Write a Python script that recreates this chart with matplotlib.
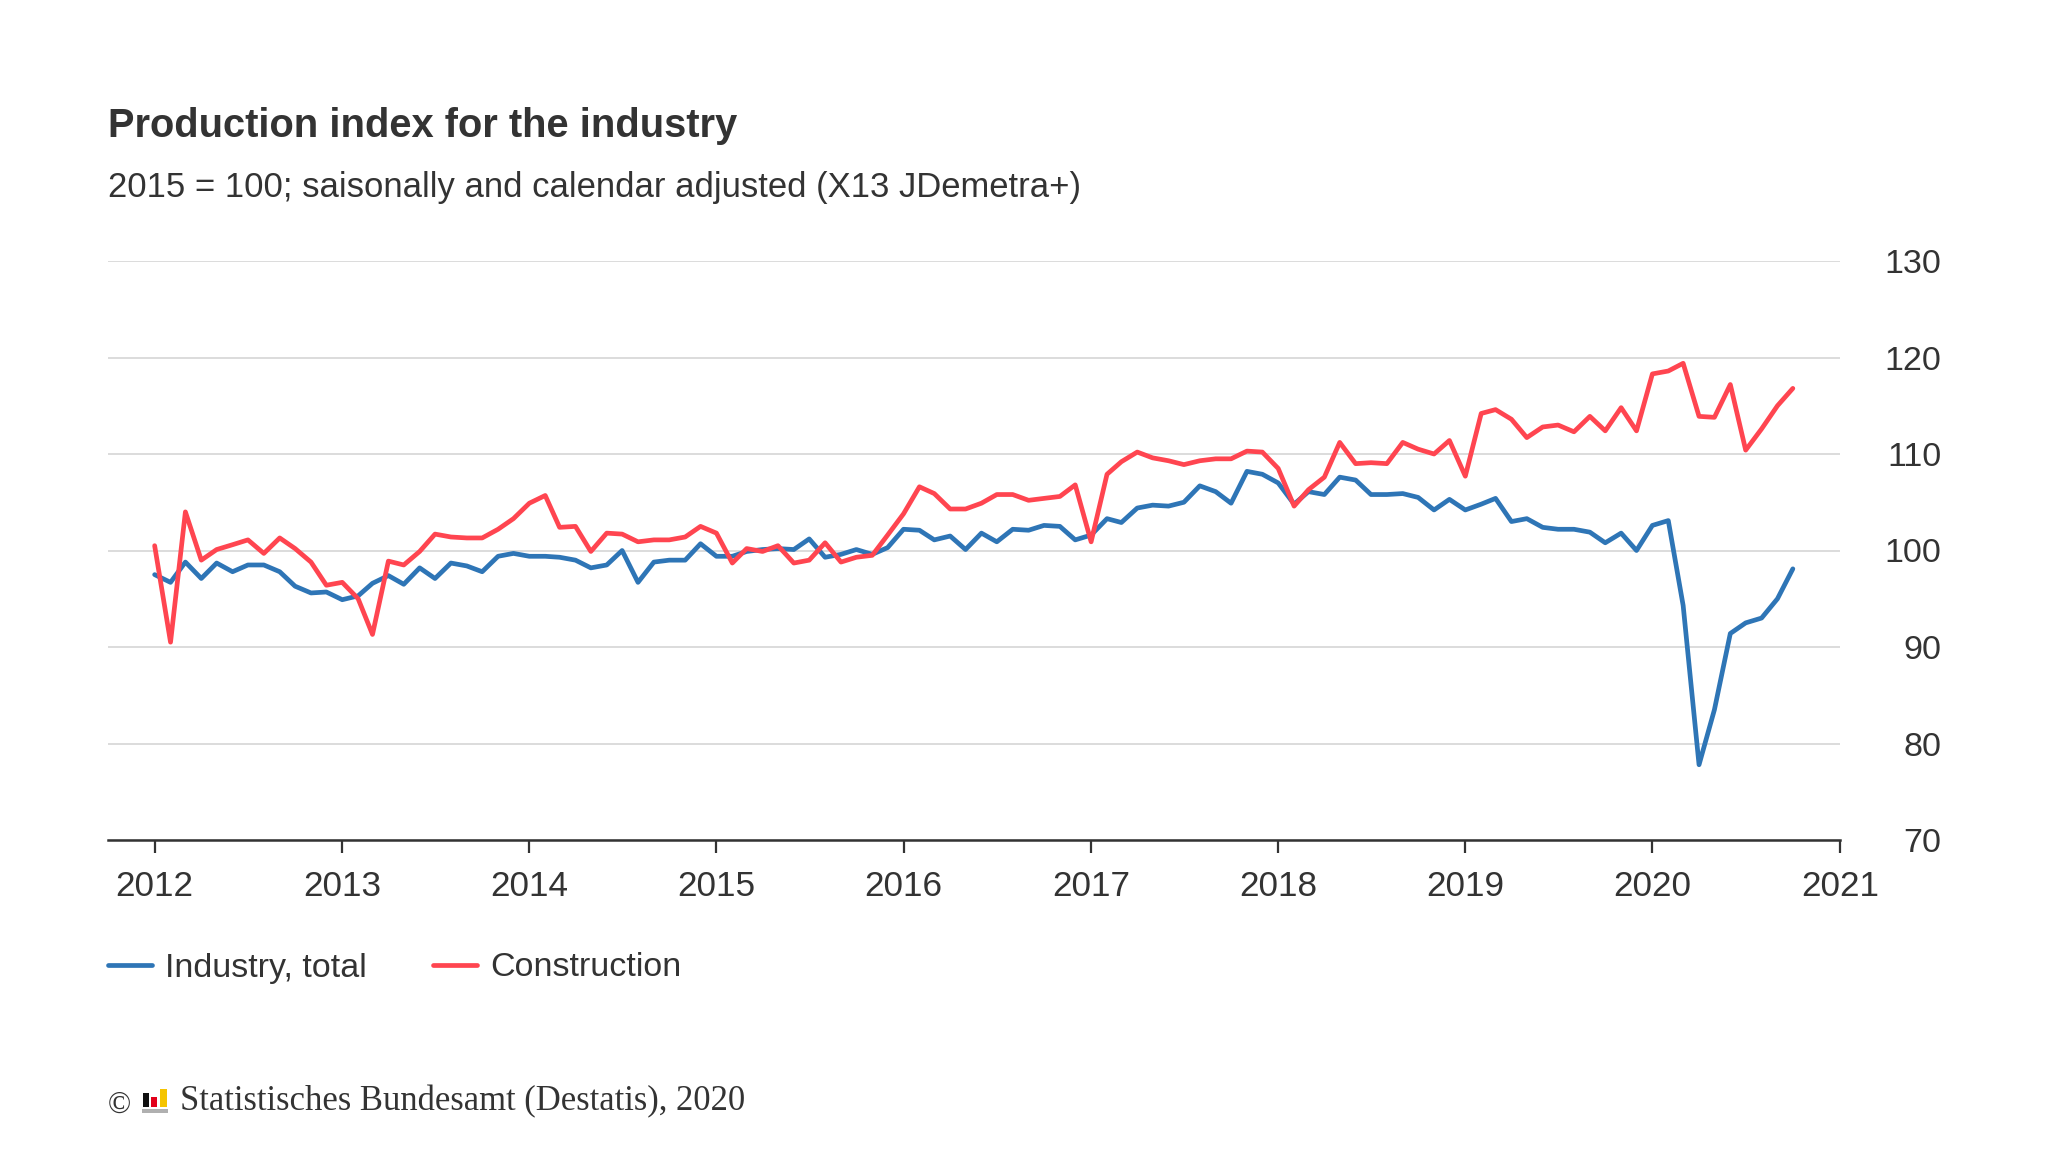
import numpy as np
import pandas as pd
import matplotlib
matplotlib.use("Agg")
import matplotlib.pyplot as plt
from matplotlib.patches import Rectangle

# Monatswerte Jan 2012 - Okt 2020, 2015 = 100
meses = pd.date_range("2012-01-01", periods=106, freq="MS")

industria = [
    97.5, 96.7, 98.8, 97.1, 98.7, 97.8, 98.5, 98.5, 97.8, 96.3, 95.6, 95.7,
    94.9, 95.3, 96.6, 97.4, 96.5, 98.2, 97.1, 98.7, 98.4, 97.8, 99.4, 99.7,
    99.4, 99.4, 99.3, 99.0, 98.2, 98.5, 100.0, 96.7, 98.8, 99.0, 99.0, 100.7,
    99.4, 99.4, 99.9, 100.1, 100.2, 100.1, 101.2, 99.3, 99.6, 100.1, 99.6, 100.3,
    102.2, 102.1, 101.1, 101.5, 100.1, 101.8, 100.9, 102.2, 102.1, 102.6, 102.5, 101.1,
    101.6, 103.3, 102.9, 104.4, 104.7, 104.6, 105.0, 106.7, 106.1, 104.9, 108.2, 107.9,
    107.0, 104.8, 106.1, 105.8, 107.6, 107.3, 105.8, 105.8, 105.9, 105.5, 104.2, 105.3,
    104.2, 104.8, 105.4, 103.0, 103.3, 102.4, 102.2, 102.2, 101.9, 100.8, 101.8, 100.0,
    102.6, 103.1, 94.3, 77.8, 83.5, 91.4, 92.5, 93.0, 95.0, 98.1,
]

construccion = [
    100.5, 90.5, 104.0, 99.0, 100.1, 100.6, 101.1, 99.7, 101.3, 100.2, 98.8, 96.4,
    96.7, 95.0, 91.3, 98.9, 98.5, 99.9, 101.7, 101.4, 101.3, 101.3, 102.2, 103.3,
    104.9, 105.7, 102.4, 102.5, 99.9, 101.8, 101.7, 100.9, 101.1, 101.1, 101.4, 102.5,
    101.8, 98.7, 100.2, 99.9, 100.5, 98.7, 99.0, 100.8, 98.8, 99.3, 99.5, 101.6,
    103.8, 106.6, 105.9, 104.3, 104.3, 104.9, 105.8, 105.8, 105.2, 105.4, 105.6, 106.8,
    100.9, 107.9, 109.2, 110.2, 109.6, 109.3, 108.9, 109.3, 109.5, 109.5, 110.3, 110.2,
    108.5, 104.6, 106.3, 107.6, 111.2, 109.0, 109.1, 109.0, 111.2, 110.5, 110.0, 111.4,
    107.7, 114.2, 114.6, 113.6, 111.7, 112.8, 113.0, 112.3, 113.9, 112.4, 114.8, 112.4,
    118.3, 118.6, 119.4, 113.9, 113.8, 117.2, 110.4, 112.6, 115.0, 116.8,
]

anios = list(range(2012, 2022))
valores_y = [70, 80, 90, 100, 110, 120, 130]

AZUL = "#2e75b6"
ROJO = "#ff4550"
TEXTO = "#333333"

plt.rcParams["font.family"] = ["Liberation Sans", "DejaVu Sans"]

fig = plt.figure(figsize=(20.48, 11.52), dpi=100)
ax = fig.add_axes([108 / 2048, 1 - 840 / 1152, (1840 - 108) / 2048, (840 - 261) / 1152])

l1, = ax.plot(meses, industria, color=AZUL, lw=3.4, solid_joinstyle="round",
              solid_capstyle="round", label="Industry, total", zorder=3)
l2, = ax.plot(meses, construccion, color=ROJO, lw=3.4, solid_joinstyle="round",
              solid_capstyle="round", label="Construction", zorder=3)

ax.set_xlim(pd.Timestamp("2011-10-02"), pd.Timestamp("2021-01-01"))
ax.set_ylim(70, 130)

ax.set_xticks([pd.Timestamp(f"{a}-01-01") for a in anios])
ax.set_xticklabels([str(a) for a in anios])
ax.set_yticks(valores_y)
ax.set_yticklabels([str(v) for v in valores_y])

for lado in ["top", "left", "right"]:
    ax.spines[lado].set_visible(False)
ax.spines["bottom"].set_color(TEXTO)
ax.spines["bottom"].set_linewidth(1.8)

ax.grid(axis="y", color="#d6d6d6", lw=1.2)
ax.set_axisbelow(True)

ax.yaxis.tick_right()
ax.tick_params(axis="y", length=0, pad=73, labelsize=24.5, labelcolor=TEXTO)
for t in ax.get_yticklabels():
    t.set_horizontalalignment("right")
ax.tick_params(axis="x", length=9, width=1.6, color=TEXTO, pad=12.7,
               labelsize=25.3, labelcolor=TEXTO)

# --- Textos ---
fig.text(108 / 2048, 1 - 126 / 1152, "Production index for the industry",
         fontsize=28.7, fontweight="bold", color=TEXTO, va="center")
fig.text(108 / 2048, 1 - 187 / 1152,
         "2015 = 100; saisonally and calendar adjusted (X13 JDemetra+)",
         fontsize=24.9, color=TEXTO, va="center")

fig.legend(handles=[l1, l2], loc="center left",
           bbox_to_anchor=(108 / 2048, 1 - 968 / 1152), ncol=2, frameon=False,
           fontsize=24.5, handlelength=1.28, handletextpad=0.4, columnspacing=1.95,
           borderpad=0, borderaxespad=0, labelcolor=TEXTO)

# Fuente + logotipo
fig.text(108 / 2048, 1 - 1105 / 1152, "©", fontsize=22, color=TEXTO,
         family=["Liberation Serif", "DejaVu Serif"], va="center")
fig.text(180 / 2048, 1 - 1102 / 1152, "Statistisches Bundesamt (Destatis), 2020",
         fontsize=24.9, color=TEXTO, family=["Liberation Serif", "DejaVu Serif"], va="center")
W, H = 2048, 1152
for x0, y0, w, h, c in [(142, 1109, 26, 4, "#b0b0b0"),
                        (143, 1093, 6, 14, "#111111"),
                        (151, 1097, 6, 10, "#e2001a"),
                        (160, 1089, 7, 18, "#f5c400")]:
    fig.add_artist(Rectangle((x0 / W, 1 - (y0 + h) / H), w / W, h / H,
                             transform=fig.transFigure, color=c, lw=0))

fig.savefig("out.png", dpi=100)
